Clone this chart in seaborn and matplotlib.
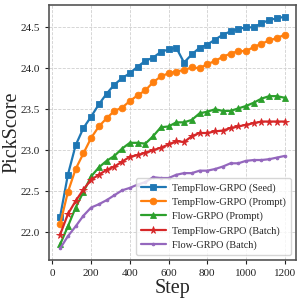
import numpy as np
import pandas as pd
import matplotlib
matplotlib.use("Agg")
import matplotlib.pyplot as plt
import seaborn as sns

# --- DATA ---
steps = list(range(40, 1201, 40))

seed_tempflow = [22.19, 22.70, 23.06, 23.27, 23.41, 23.56, 23.69, 23.80, 23.88, 23.94,
                 24.02, 24.09, 24.13, 24.20, 24.23, 24.25, 24.07, 24.17, 24.25, 24.29,
                 24.35, 24.41, 24.45, 24.48, 24.50, 24.50, 24.55, 24.59, 24.61, 24.63]
prompt_tempflow = [22.10, 22.49, 22.77, 22.96, 23.15, 23.29, 23.39, 23.48, 23.52, 23.60,
                   23.67, 23.73, 23.83, 23.90, 23.94, 23.96, 23.98, 24.01, 24.00, 24.05,
                   24.09, 24.14, 24.18, 24.21, 24.21, 24.26, 24.30, 24.34, 24.37, 24.41]
prompt_flow = [21.85, 22.07, 22.30, 22.49, 22.68, 22.79, 22.87, 22.93, 23.02, 23.09,
               23.09, 23.08, 23.17, 23.28, 23.29, 23.34, 23.34, 23.37, 23.45, 23.47,
               23.50, 23.48, 23.48, 23.51, 23.54, 23.58, 23.63, 23.66, 23.66, 23.64]
batch_tempflow = [21.97, 22.22, 22.38, 22.52, 22.64, 22.70, 22.76, 22.80, 22.86, 22.92,
                  22.94, 22.97, 23.00, 23.03, 23.07, 23.11, 23.10, 23.17, 23.21, 23.21,
                  23.23, 23.24, 23.27, 23.29, 23.31, 23.33, 23.35, 23.35, 23.35, 23.35]
batch_flow = [21.80, 21.95, 22.07, 22.20, 22.30, 22.34, 22.39, 22.45, 22.51, 22.54,
              22.58, 22.61, 22.67, 22.66, 22.66, 22.70, 22.72, 22.72, 22.75, 22.75,
              22.77, 22.80, 22.84, 22.84, 22.87, 22.88, 22.88, 22.89, 22.91, 22.93]

series_names = ["TempFlow-GRPO (Seed)", "TempFlow-GRPO (Prompt)", "Flow-GRPO (Prompt)",
                "TempFlow-GRPO (Batch)", "Flow-GRPO (Batch)"]
series_values = [seed_tempflow, prompt_tempflow, prompt_flow, batch_tempflow, batch_flow]

df = pd.concat([pd.DataFrame({"Step": steps, "PickScore": vals, "Method": name})
                for name, vals in zip(series_names, series_values)], ignore_index=True)

# --- STYLE ---
sns.set_style("ticks")
plt.rcParams['font.family'] = ['Liberation Serif', 'DejaVu Serif']
palette = ["#1f77b4", "#ff7f0e", "#2ca02c", "#d62728", "#9467bd"]
markers = ["s", "o", "^", "*", "."]
msizes = [4.5, 4.8, 5.0, 5.5, 4.0]

fig = plt.figure(figsize=(3.02, 3.01), dpi=100)
ax = fig.add_axes([0.162, 0.136, 0.818, 0.847])

for i, name in enumerate(series_names):
    sns.lineplot(data=df[df["Method"] == name], x="Step", y="PickScore", ax=ax,
                 color=palette[i], marker=markers[i], markersize=msizes[i],
                 markeredgecolor=palette[i], markeredgewidth=0.6,
                 linewidth=1.6, label=name)

ax.set_xticks([0, 200, 400, 600, 800, 1000, 1200])
ax.set_yticks([22.0, 22.5, 23.0, 23.5, 24.0, 24.5])
ax.set_yticklabels(["22.0", "22.5", "23.0", "23.5", "24.0", "24.5"])
ax.tick_params(labelsize=8, length=3, width=0.8, colors="#222222")
ax.grid(True, linestyle="--", color="#d0d0d0", linewidth=0.6)
for sp in ax.spines.values():
    sp.set_color("#555555")
    sp.set_linewidth(1.2)

ax.set_xlabel("Step", fontsize=14.5, labelpad=1)
ax.set_ylabel("PickScore", fontsize=14.5, labelpad=-0.5)
ax.legend(loc="lower right", fontsize=7.4, frameon=True, handlelength=2.4,
          borderpad=0.5, labelspacing=0.45, handletextpad=0.6)

plt.savefig("out.png", dpi=100)
